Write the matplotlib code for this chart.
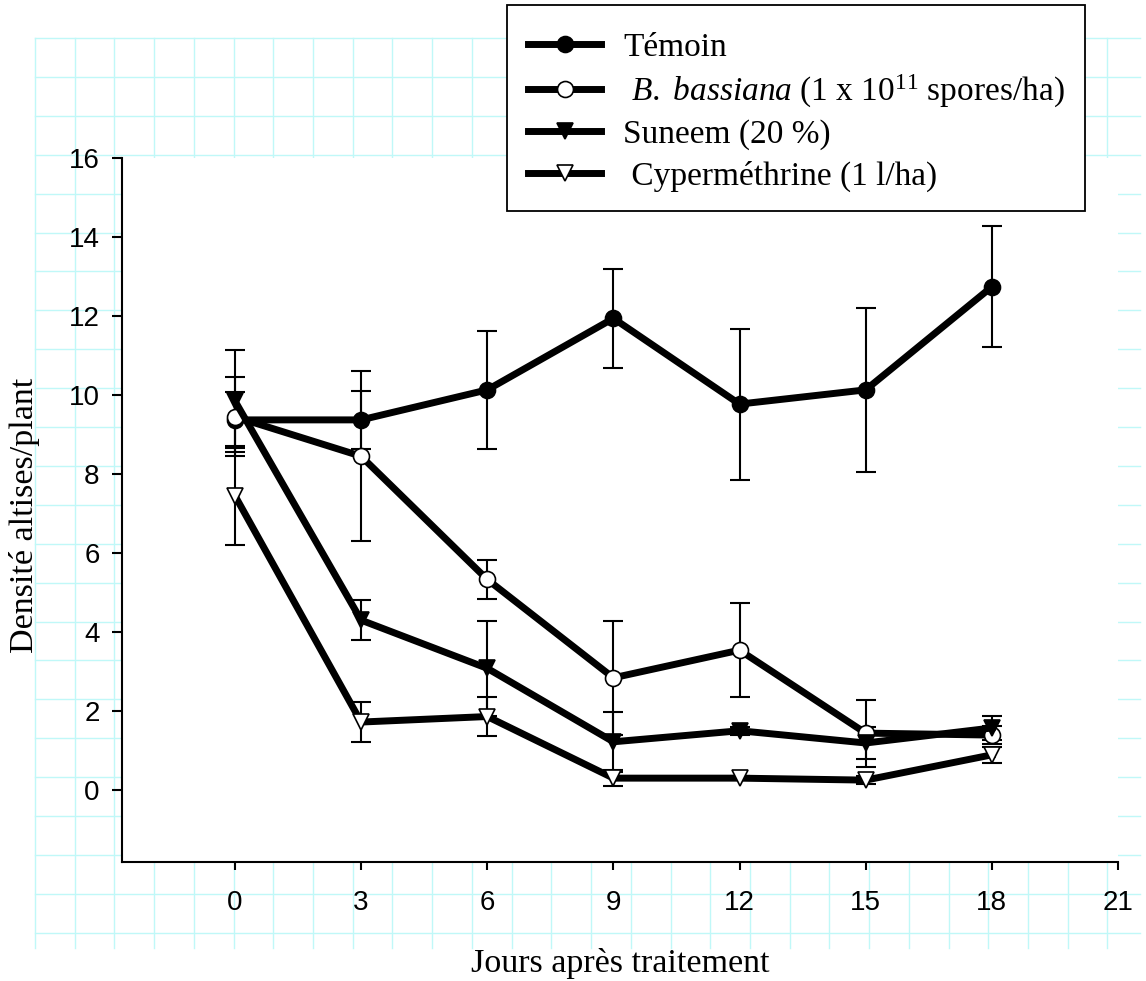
import numpy as np
import matplotlib
matplotlib.use('Agg')
import matplotlib.pyplot as plt
from matplotlib.lines import Line2D
from matplotlib.patches import Rectangle

# data (mean +/- error)
days = [0, 3, 6, 9, 12, 15, 18]

temoin = [9.37, 9.37, 10.13, 11.94, 9.77, 10.13, 12.74]
temoin_err = [0.7, 0.73, 1.5, 1.25, 1.91, 2.08, 1.53]

bassiana = [9.45, 8.45, 5.33, 2.84, 3.54, 1.44, 1.39]
bassiana_err = [1.0, 2.15, 0.49, 1.45, 1.19, 0.85, 0.23]

suneem = [9.85, 4.3, 3.08, 1.22, 1.5, 1.19, 1.57]
suneem_err = [1.3, 0.5, 1.21, 0.76, 0.1, 0.4, 0.31]

cyper = [7.45, 1.72, 1.86, 0.3, 0.3, 0.25, 0.89]
cyper_err = [1.25, 0.5, 0.5, 0.21, 0.05, 0.1, 0.2]

labels = ['Témoin',
          r' $\mathit{B.\ bassiana\ (}$1 x 10$^{11}$ spores/ha$\mathit{)}$',
          'Suneem (20 %)',
          ' Cyperméthrine (1 l/ha)']

x_ticks = [0, 3, 6, 9, 12, 15, 18, 21]
y_ticks = [0, 2, 4, 6, 8, 10, 12, 14, 16]

W, H = 1146, 981

plt.rcParams['font.family'] = 'Liberation Serif'
plt.rcParams['mathtext.fontset'] = 'custom'
plt.rcParams['mathtext.rm'] = 'Liberation Serif'
plt.rcParams['mathtext.it'] = 'Liberation Serif:italic'

fig = plt.figure(figsize=(W / 100, H / 100), dpi=100)


def fx(px):
    return px / W


def fy(py):
    return 1 - py / H


# page grid in the background (light cyan)
grid_col = '#c0f8f8'
for k in range(24):
    yy = 38 + 38.9 * k
    fig.add_artist(Line2D([fx(35), fx(1140)], [fy(yy), fy(yy)],
                          color=grid_col, lw=1.0, zorder=-2))
for k in range(28):
    xx = 35 + 39.72 * k
    fig.add_artist(Line2D([fx(xx), fx(xx)], [fy(38), fy(948)],
                          color=grid_col, lw=1.0, zorder=-2))

ax = fig.add_axes([fx(122), fy(862), fx(1118) - fx(122), fy(158) - fy(862)])
ax.set_facecolor('white')

series = [
    (temoin, temoin_err, 'o', 'black'),
    (bassiana, bassiana_err, 'o', 'white'),
    (suneem, suneem_err, 'v', 'black'),
    (cyper, cyper_err, 'v', 'white'),
]

handles = []
for vals, err, mk, face in series:
    ax.errorbar(days, vals, yerr=err, fmt='none', ecolor='black',
                elinewidth=1.5, capsize=7.5, capthick=1.5, zorder=2)
    line, = ax.plot(days, vals, color='black', lw=5, marker=mk,
                    markersize=11.5, markerfacecolor=face,
                    markeredgecolor='black', markeredgewidth=1.2,
                    zorder=3)
    handles.append(line)

ax.set_xlim(-2.686, 21)
ax.set_ylim(-1.823, 16)

ax.spines['top'].set_visible(False)
ax.spines['right'].set_visible(False)
ax.spines['left'].set_linewidth(1.5)
ax.spines['bottom'].set_linewidth(1.5)

ax.set_xticks(x_ticks)
ax.set_yticks(y_ticks)
ax.tick_params(axis='x', direction='out', length=6, width=1.5, pad=14.5,
               labelsize=20)
ax.tick_params(axis='y', direction='out', length=7.2, width=1.5, pad=9,
               labelsize=20)
for lab in ax.get_xticklabels() + ax.get_yticklabels():
    lab.set_fontfamily('Liberation Sans')

ax.set_xlabel('Jours après traitement', fontsize=24.5)
ax.xaxis.set_label_coords(0.5, -0.122)
ax.set_ylabel('Densité altises/plant', fontsize=24.5)
ax.yaxis.set_label_coords(-0.082, 0.493)

# legend box
fig.add_artist(Rectangle((fx(507), fy(211)), fx(1085) - fx(507),
                         fy(5) - fy(211), transform=fig.transFigure,
                         facecolor='white', edgecolor='black', lw=1.3,
                         zorder=4))
fig.legend(handles, labels, loc='upper left',
           bbox_to_anchor=(fx(528), fy(32)), frameon=False,
           fontsize=24, borderpad=0, borderaxespad=0,
           handlelength=2.2, handletextpad=0.65, labelspacing=0.3,
           numpoints=1)

fig.savefig('out.png', dpi=100)
